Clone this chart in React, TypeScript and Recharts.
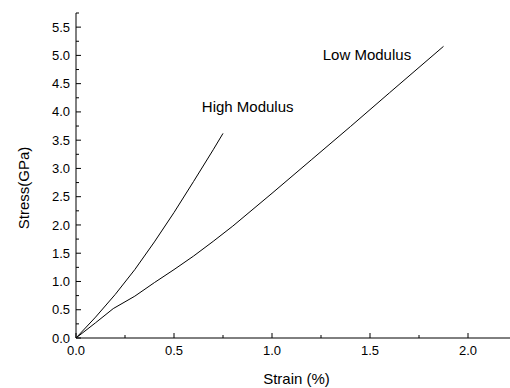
import { LineChart, Line, XAxis, YAxis, ReferenceDot } from "recharts";

// strain (%) / stress (GPa) pairs read per fibre type
const highStrain = [0, 0.1, 0.2, 0.3, 0.4, 0.5, 0.6, 0.7, 0.75];
const highStress = [0, 0.37, 0.77, 1.21, 1.7, 2.22, 2.77, 3.33, 3.62];

const lowStrain = [0, 0.1, 0.19, 0.3, 0.4, 0.5, 0.6, 0.7, 0.8, 1.0, 1.2, 1.4, 1.6, 1.875];
const lowStress = [0, 0.27, 0.52, 0.74, 0.98, 1.21, 1.45, 1.71, 1.98, 2.56, 3.15, 3.74, 4.34, 5.16];

const xTicks = [0, 0.25, 0.5, 0.75, 1, 1.25, 1.5, 1.75, 2, 2.25];
const yTicks = [0, 0.25, 0.5, 0.75, 1, 1.25, 1.5, 1.75, 2, 2.25, 2.5, 2.75, 3, 3.25, 3.5, 3.75, 4, 4.25, 4.5, 4.75, 5, 5.25, 5.5, 5.75];

const toPoints = (xs: number[], ys: number[]) => xs.map((x, i) => ({ x, y: ys[i] }));
const highData = toPoints(highStrain, highStress);
const lowData = toPoints(lowStrain, lowStress);

const FONT = "'Liberation Sans', Arial, sans-serif";
const isMajor = (v: number) => Math.abs(v * 2 - Math.round(v * 2)) < 1e-6;

const BottomTick = ({ x, y, payload }: any) => {
  const major = isMajor(payload.value);
  return (
    <g>
      <line x1={x} x2={x} y1={y} y2={y - (major ? 5 : 3)} stroke="#000" />
      {major && payload.value <= 2 && (
        <text x={x} y={y + 17} textAnchor="middle" fontSize={13} fontFamily={FONT} fill="#000">
          {payload.value.toFixed(1)}
        </text>
      )}
    </g>
  );
};

const TopTick = ({ x, y, payload }: any) => {
  const major = isMajor(payload.value);
  return <line x1={x} x2={x} y1={y} y2={y + (major ? 5 : 3)} stroke="#000" />;
};

const LeftTick = ({ x, y, payload }: any) => {
  const major = isMajor(payload.value);
  return (
    <g>
      <line x1={x} x2={x + (major ? 5 : 3)} y1={y} y2={y} stroke="#000" />
      {major && payload.value <= 5.5 && (
        <text x={x - 6} y={y} dy="0.35em" textAnchor="end" fontSize={13} fontFamily={FONT} fill="#000">
          {payload.value.toFixed(1)}
        </text>
      )}
    </g>
  );
};

const StressLabel = () => (
  <text
    x={23}
    y={188}
    transform="rotate(-90 23 188)"
    textAnchor="middle"
    dominantBaseline="central"
    fontSize={15}
    fontFamily={FONT}
    fill="#000"
  >
    Stress(GPa)
  </text>
);

export default function App() {
  return (
    <div style={{ position: "absolute", left: 0, top: 0, width: 510, height: 388, overflow: "hidden", background: "#fff" }}>
      <LineChart width={530} height={388} margin={{ top: 13, right: 13, bottom: 0, left: 0 }}>
        <XAxis
          dataKey="x"
          type="number"
          domain={[0, 2.25]}
          ticks={xTicks}
          interval={0}
          allowDataOverflow
          height={50}
          tickSize={0}
          tickMargin={0}
          tickLine={false}
          tick={<BottomTick />}
          axisLine={{ stroke: "#000" }}
          label={{ value: "Strain (%)", position: "insideBottom", offset: 4, fontSize: 15, fontFamily: FONT, fill: "#000" }}
        />
        <XAxis
          xAxisId="top"
          orientation="top"
          dataKey="x"
          type="number"
          domain={[0, 2.25]}
          ticks={xTicks}
          interval={0}
          allowDataOverflow
          height={0}
          tickSize={0}
          tickMargin={0}
          tickLine={false}
          tick={<TopTick />}
          axisLine={{ stroke: "#000" }}
        />
        <YAxis
          type="number"
          domain={[0, 5.75]}
          ticks={yTicks}
          interval={0}
          allowDataOverflow
          width={76}
          tickSize={0}
          tickMargin={0}
          tickLine={false}
          tick={<LeftTick />}
          axisLine={{ stroke: "#000" }}
          label={<StressLabel />}
        />
        <Line data={highData} dataKey="y" stroke="#000" strokeWidth={1} dot={false} type="linear" isAnimationActive={false} />
        <Line data={lowData} dataKey="y" stroke="#000" strokeWidth={1} dot={false} type="linear" isAnimationActive={false} />
        <ReferenceDot
          x={0.642}
          y={4.09}
          r={0}
          fill="none"
          stroke="none"
          label={{ value: "High Modulus", position: "right", offset: 0, fontSize: 15, fontFamily: FONT, fill: "#000" }}
        />
        <ReferenceDot
          x={1.259}
          y={5.01}
          r={0}
          fill="none"
          stroke="none"
          label={{ value: "Low Modulus", position: "right", offset: 0, fontSize: 15, fontFamily: FONT, fill: "#000" }}
        />
      </LineChart>
    </div>
  );
}
